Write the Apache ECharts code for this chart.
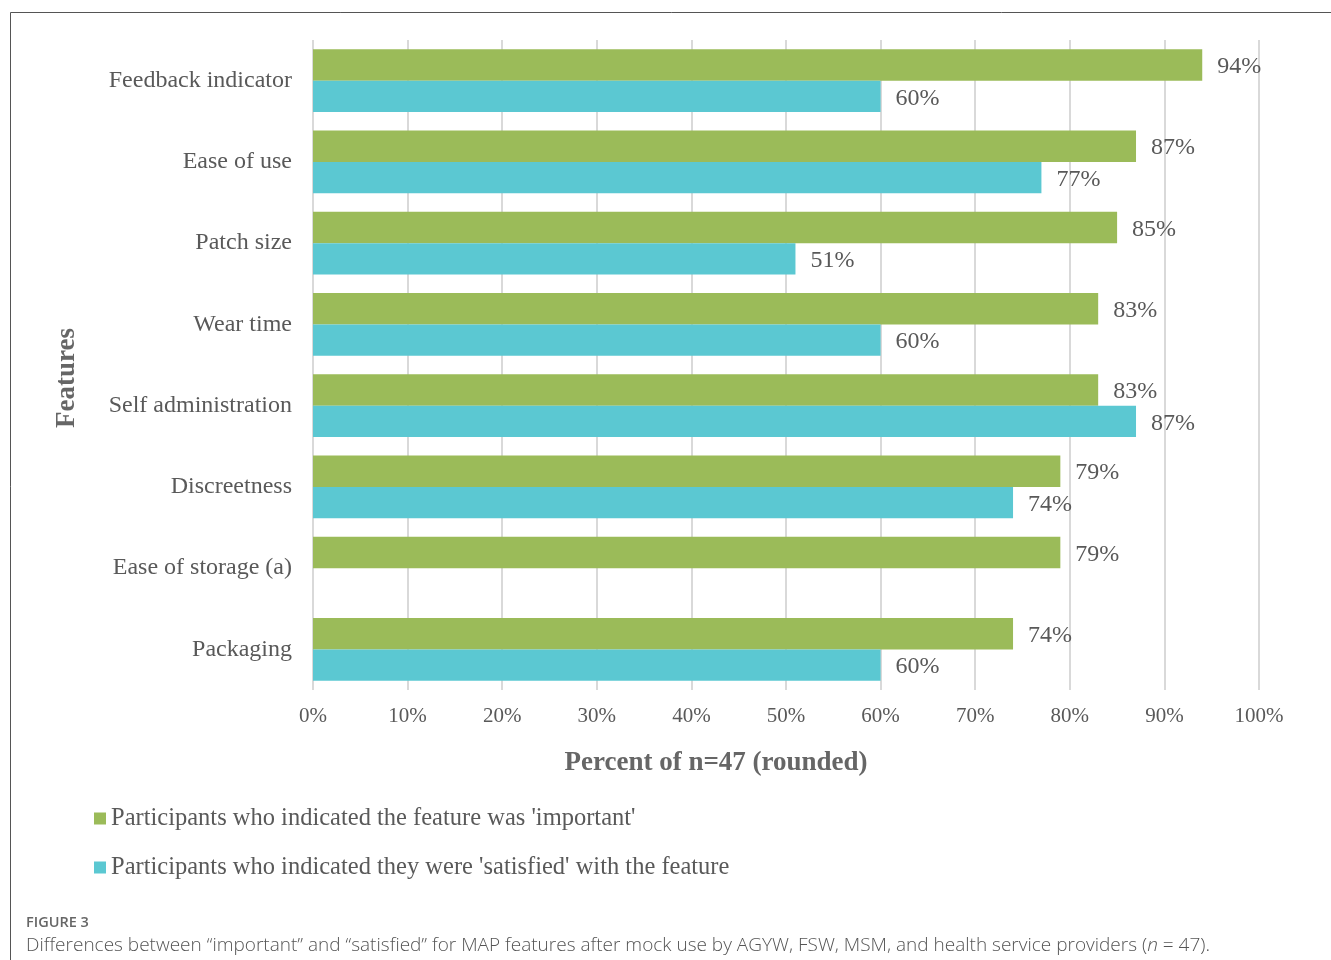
<!DOCTYPE html>
<html><head><meta charset="utf-8">
<script src="https://cdn.jsdelivr.net/npm/echarts@6/dist/echarts.min.js"></script>
<style>html,body{margin:0;padding:0;background:#fff}#c{width:1331px;height:960px}</style>
</head><body><div id="c"></div>
<script>
var categories = ['Feedback indicator','Ease of use','Patch size','Wear time','Self administration','Discreetness','Ease of storage (a)','Packaging'];
var importantValues = [94,87,85,83,83,79,79,74];
var satisfiedValues = [60,77,51,60,87,74,null,60];
var seriesNames = ["Participants who indicated the feature was 'important'","Participants who indicated they were 'satisfied' with the feature"];
var xTicks = {min:0,max:100,interval:10};

var serif = '"Liberation Serif", "DejaVu Serif", serif';
var sans = '"Open Sans", sans-serif';
var chart = echarts.init(document.getElementById('c'));
chart.setOption({
  animation:false,
  backgroundColor:'#fff',
  grid:{left:313,right:72,top:40,bottom:270,containLabel:false},
  legend:{
    orient:'vertical',left:94,top:806,padding:0,itemWidth:12,itemHeight:12,itemGap:24,
    icon:'rect',
    textStyle:{fontFamily:serif,fontSize:24.5,color:'#595959',lineHeight:24},
    data:seriesNames
  },
  xAxis:{
    type:'value',min:xTicks.min,max:xTicks.max,interval:xTicks.interval,
    axisLine:{show:false},
    axisTick:{show:false},
    splitLine:{show:true,lineStyle:{color:'#d9d9d9',width:2}},
    axisLabel:{formatter:'{value}%',margin:16,fontFamily:serif,fontSize:21,color:'#595959'}
  },
  yAxis:{
    type:'category',data:categories,inverse:true,
    axisLine:{show:false},axisTick:{show:false},
    axisLabel:{margin:21,fontFamily:serif,fontSize:24,color:'#595959'}
  },
  series:[
    {name:seriesNames[0],type:'bar',data:importantValues,barGap:'0%',barCategoryGap:'22.5%',
     itemStyle:{color:'#9bbb59'},
     label:{show:true,position:'right',distance:15,offset:[0,2],formatter:'{c}%',fontFamily:serif,fontSize:24,color:'#595959'}},
    {name:seriesNames[1],type:'bar',data:satisfiedValues,barGap:'0%',barCategoryGap:'22.5%',
     itemStyle:{color:'#5bc8d2'},
     label:{show:true,position:'right',distance:15,offset:[0,2],formatter:'{c}%',fontFamily:serif,fontSize:24,color:'#595959'}}
  ],
  graphic:[
    {type:'rect',shape:{x:10.5,y:12.5,width:1400,height:1000},style:{fill:'none',stroke:'#555',lineWidth:1},silent:true},
    {type:'text',x:67,y:378,rotation:Math.PI/2,style:{text:'Features',font:'bold 27px "Liberation Serif", serif',fill:'#666',align:'center',verticalAlign:'middle'}},
    {type:'text',x:716,y:763,style:{text:'Percent of n=47 (rounded)',font:'bold 27px "Liberation Serif", serif',fill:'#666',align:'center',verticalAlign:'middle'}},
    {type:'text',x:26,y:923,style:{text:'FIGURE 3',font:'600 14.5px "Open Sans", sans-serif',fill:'#666',verticalAlign:'middle'}},
    {type:'text',x:26,y:946,style:{
      text:'{a|Differences between \u201cimportant\u201d and \u201csatisfied\u201d for MAP features after mock use by AGYW, FSW, MSM, and health service providers (}{i|n}{a| = 47).}',
      verticalAlign:'middle',
      rich:{a:{fontFamily:sans,fontSize:19,fontWeight:300,fill:'#555'},i:{fontFamily:sans,fontSize:19,fontWeight:300,fontStyle:'italic',fill:'#555'}}
    }}
  ]
});
</script></body></html>
